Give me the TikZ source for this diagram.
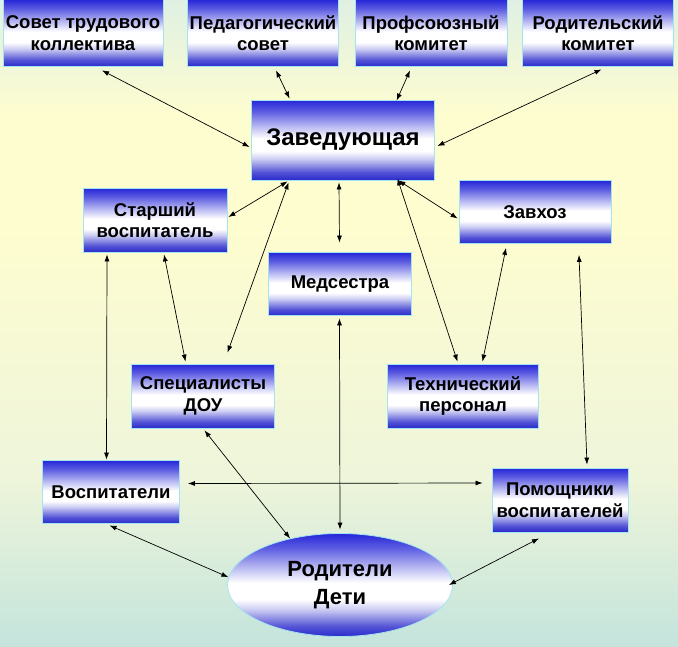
\documentclass[tikz,border=0pt]{standalone}
\usepackage{fontspec}
\setmainfont{Liberation Sans}
\usetikzlibrary{arrows.meta,shapes.geometric}

\definecolor{bgtop}{HTML}{DFF0E3}
\definecolor{bgmid}{HTML}{FEFDCF}
\definecolor{bglow}{HTML}{EEF5DA}
\definecolor{bgbot}{HTML}{C4E4DC}
\definecolor{boxtop}{HTML}{2626D8}
\definecolor{boxbot}{HTML}{2A2ACC}
\definecolor{boxedge}{HTML}{A4E4F0}

\pgfdeclareverticalshading{bggrad}{100bp}{color(0bp)=(bgbot); color(25bp)=(bgbot); color(38bp)=(bglow); color(58bp)=(bgmid); color(66bp)=(bgmid); color(75bp)=(bgtop); color(100bp)=(bgtop)}
\pgfdeclareverticalshading{boxgrad}{100bp}{color(0bp)=(boxbot); color(25bp)=(boxbot); color(30bp)=(boxbot!80!white); color(38bp)=(boxbot!25!white); color(43bp)=(white); color(51bp)=(white); color(58bp)=(boxtop!30!white); color(68bp)=(boxtop!75!white); color(75bp)=(boxtop); color(100bp)=(boxtop)}

\tikzset{
  box/.style={draw=boxedge, line width=0.8pt, shading=boxgrad, align=center, inner sep=0pt,
    font=\bfseries\fontsize{18.5}{21.5}\selectfont},
  link/.style={<->, >={Latex[length=7pt,width=5pt]}, line width=0.7pt, black}
}

\begin{document}
\begin{tikzpicture}[x=1pt,y=-1pt]
\shade[shading=bggrad] (0,0) rectangle (678,646);
\useasboundingbox (0,0) rectangle (678,646);

\node[box, minimum width=160, minimum height=67] (sovet) at (83,33) {Совет трудового\\коллектива};
\node[box, minimum width=151, minimum height=67] (ped) at (263,33) {Педагогический\\совет};
\node[box, minimum width=152, minimum height=67] (prof) at (431,33) {Профсоюзный\\комитет};
\node[box, minimum width=151, minimum height=67] (rod) at (598,33) {Родительский\\комитет};
\node[box, minimum width=183, minimum height=80, font=\bfseries\fontsize{24}{28}\selectfont] (zav) at (343,140) {Заведующая};
\node[box, minimum width=144, minimum height=64] (star) at (155,220) {Старший\\воспитатель};
\node[box, minimum width=143, minimum height=63] (med) at (340,284) {Медсестра};
\node[box, minimum width=152, minimum height=63] (zavhoz) at (535,212) {Завхоз};
\node[box, minimum width=143, minimum height=64] (spec) at (203,396) {Специалисты\\ДОУ};
\node[box, minimum width=151, minimum height=64] (tech) at (463,396) {Технический\\персонал};
\node[box, minimum width=137, minimum height=63] (vosp) at (111,492) {Воспитатели};
\node[box, minimum width=136, minimum height=64] (pom) at (560,500) {Помощники\\воспитателей};
\node[box, ellipse, minimum width=225, minimum height=103, font=\bfseries\fontsize{22}{28}\selectfont] (deti) at (340,585) {Родители\\Дети};

% links to the head
\draw[link] ([shift={(19,3.5)}]sovet.south) -- ([shift={(-1.5,7)}]zav.west);
\draw[link] ([shift={(13,3.5)}]ped.south) -- ([shift={(38.5,-1)}]zav.north west);
\draw[link] ([shift={(-21,3.5)}]prof.south) -- ([shift={(145.5,1)}]zav.north west);
\draw[link] ([shift={(3.5,2.5)}]rod.south) -- ([shift={(2.5,6)}]zav.east);
\draw[link] ([shift={(36.5,1)}]zav.south west) -- ([shift={(1,-3)}]star.east);
\draw[link] ([shift={(37.5,2)}]zav.south west) -- ([shift={(24.5,-11)}]spec.north);
\draw[link] ([shift={(-4,2)}]zav.south) -- ([shift={(-0.5,-9.5)}]med.north);
\draw[link] ([shift={(-36.5,0)}]zav.south east) -- ([shift={(-1,6.5)}]zavhoz.west);
\draw[link] ([shift={(-37.5,-2)}]zav.south east) -- ([shift={(-5.5,-2)}]tech.north);

% middle level
\draw[link] ([shift={(-29,4)}]zavhoz.south) -- ([shift={(19.5,-2)}]tech.north);
\draw[link] ([shift={(44,11)}]zavhoz.south) -- ([shift={(27,-3)}]pom.north);
\draw[link] ([shift={(-48,2)}]star.south) -- ([shift={(-4.5,-0.5)}]vosp.north);
\draw[link] ([shift={(9,2)}]star.south) -- ([shift={(-17.5,-2)}]spec.north);

% links to parents and children
\draw[link] ([shift={(-0.5,2.5)}]med.south) -- ([shift={(0,-3.5)}]deti.north);
\draw[link] ([shift={(1.5,2)}]spec.south) -- (deti.137);
\draw[link] ([shift={(8,-8.5)}]vosp.east) -- ([shift={(-9,-17)}]pom.west);
\draw[link] ([shift={(-1.5,1.5)}]vosp.south) -- (deti.176);
\draw[link] ([shift={(-21,6)}]pom.south) -- ([xshift=-4]deti.east);
\end{tikzpicture}
\end{document}
